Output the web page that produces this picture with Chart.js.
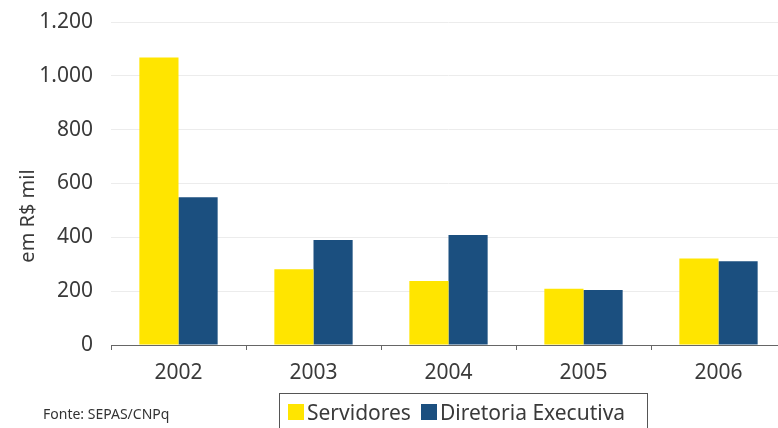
<!DOCTYPE html>
<html>
<head>
<meta charset="utf-8">
<script src="https://cdn.jsdelivr.net/npm/chart.js@4/dist/chart.umd.min.js"></script>
<style>
  html, body { margin: 0; padding: 0; background: #fff; overflow: hidden; }
  #wrap { position: relative; width: 778px; height: 428px; overflow: hidden; }
  #chart { position: absolute; left: 0; top: 0; }
  #legend {
    position: absolute; left: 279px; top: 393px; width: 369px; height: 40px;
    border: 1px solid #555; box-sizing: border-box;
    font-family: "Noto Sans", sans-serif; font-size: 21px; color: #3a3a3a;
    display: flex; align-items: flex-start; padding: 6px 0 0 8px;
  }
  #legend .item { display: flex; align-items: center; margin-right: 10px; line-height: 24px; }
  #legend .sw { width: 16px; height: 16px; margin-right: 3px; }
  #fonte {
    position: absolute; left: 43px; top: 404px;
    font-family: "Noto Sans", sans-serif; font-size: 14px; color: #333;
  }
</style>
</head>
<body>
<div id="wrap">
  <canvas id="chart" width="800" height="428"></canvas>
  <div id="legend"></div>
  <div id="fonte">Fonte: SEPAS/CNPq</div>
</div>
<script>
var anos = ["2002", "2003", "2004", "2005", "2006"];
var servidores = [1068, 281, 238, 209, 321];
var diretoria = [549, 390, 409, 204, 311];
var yTicks = [0, 200, 400, 600, 800, 1000, 1200];

var textColor = '#3a3a3a';
var fontFamily = '"Noto Sans", sans-serif';

// vertical axis title, drawn at a fixed spot left of the tick labels
var yTitlePlugin = {
    id: 'yTitle',
    afterDraw: function(chart) {
        var ctx = chart.ctx;
        ctx.save();
        ctx.translate(28, 216);
        ctx.rotate(-Math.PI / 2);
        ctx.fillStyle = textColor;
        ctx.font = '20px ' + fontFamily;
        ctx.textAlign = 'center';
        ctx.textBaseline = 'middle';
        ctx.fillText('em R$ mil', 0, 0);
        ctx.restore();
    }
};

var ctx = document.getElementById('chart').getContext('2d');
var chart = new Chart(ctx, {
    type: 'bar',
    data: {
        labels: anos,
        datasets: [{
            label: 'Servidores',
            data: servidores,
            backgroundColor: '#ffe500',
            barPercentage: 1,
            categoryPercentage: 0.58
        }, {
            label: 'Diretoria Executiva',
            data: diretoria,
            backgroundColor: '#1b4f7f',
            barPercentage: 1,
            categoryPercentage: 0.58
        }]
    },
    options: {
        responsive: false,
        animation: false,
        devicePixelRatio: 1,
        layout: { padding: { top: 22, right: 14, left: 0, bottom: 0 } },
        plugins: {
            legend: { display: false },
            tooltip: { enabled: false }
        },
        scales: {
            x: {
                offset: true,
                grid: { offset: true, drawOnChartArea: false, drawTicks: true, tickLength: 5, color: '#666' },
                border: { display: true, color: '#666', width: 1 },
                ticks: { color: textColor, font: { family: fontFamily, size: 21 }, padding: 10 },
                afterFit: function(scale) { scale.height = 83; }
            },
            y: {
                min: 0,
                max: 1200,
                afterBuildTicks: function(scale) {
                    scale.ticks = yTicks.map(function(v) { return { value: v }; });
                },
                // invisible tick marks keep the labels away from the plot
                grid: { color: '#ececec', drawTicks: true, tickLength: 14, tickColor: 'rgba(0,0,0,0)' },
                border: { display: false },
                ticks: {
                    color: textColor,
                    font: { family: fontFamily, size: 21 },
                    padding: 4,
                    callback: function(v) {
                        return String(v).replace(/\B(?=(\d{3})+(?!\d))/g, '.');
                    }
                },
                afterFit: function(scale) { scale.width = 111; }
            }
        }
    },
    plugins: [yTitlePlugin]
});

// html legend built from the chart's datasets
var legendEl = document.getElementById('legend');
chart.data.datasets.forEach(function(ds) {
    var item = document.createElement('div');
    item.className = 'item';
    var sw = document.createElement('span');
    sw.className = 'sw';
    sw.style.background = ds.backgroundColor;
    var txt = document.createElement('span');
    txt.textContent = ds.label;
    item.appendChild(sw);
    item.appendChild(txt);
    legendEl.appendChild(item);
});
</script>
</body>
</html>
